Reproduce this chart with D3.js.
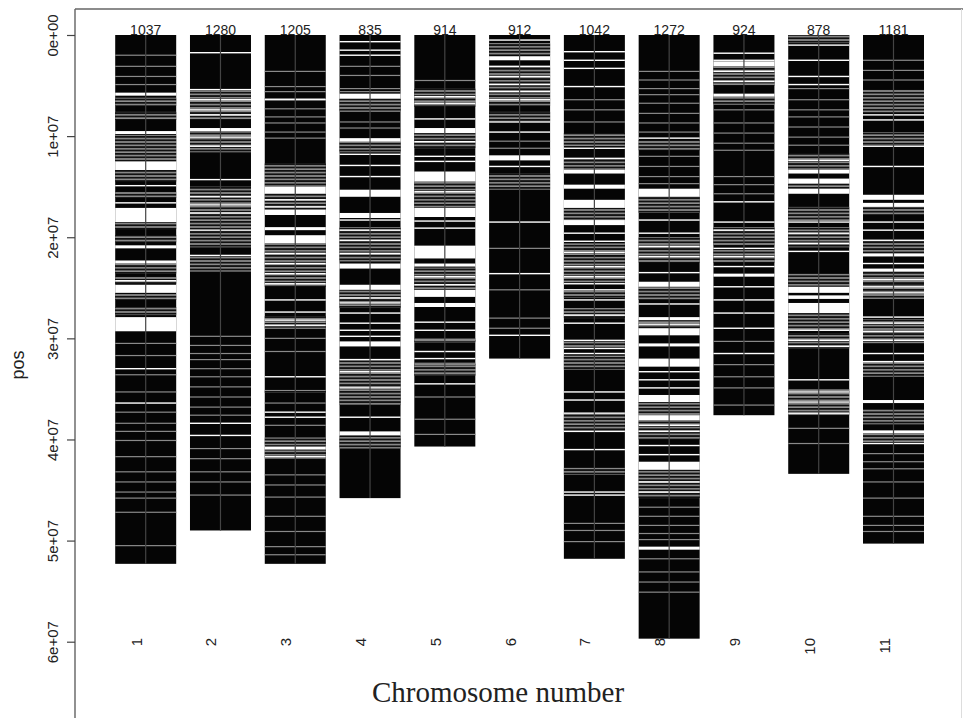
<!DOCTYPE html>
<html>
<head>
<meta charset="utf-8">
<script src="https://cdn.jsdelivr.net/npm/d3@7"></script>
<style>
  body { margin: 0; background: #fff; }
  svg text { font-family: "Liberation Sans", Arial, sans-serif; fill: #222; }
</style>
</head>
<body>
<svg id="chart" width="963" height="718"></svg>
<script>
// chromosomes and marker counts
const chromosomes = ['1','2','3','4','5','6','7','8','9','10','11'];
const markerCounts = [1037, 1280, 1205, 835, 914, 912, 1042, 1272, 924, 878, 1181];
// last marker position, Mb
const chromLengthMb = [52.3, 49.0, 52.3, 45.8, 40.7, 32.0, 51.8, 59.7, 37.6, 43.4, 50.3];

const yTickValues = [0, 1e7, 2e7, 3e7, 4e7, 5e7, 6e7];
const yTickLabels = ['0e+00','1e+07','2e+07','3e+07','4e+07','5e+07','6e+07'];

// stretches with no markers (Mb, from-to)
const gapBands = [
  [[5.7,6.0],[9.5,9.8],[12.5,13.35],[17.1,18.5],[20.8,21.1],[22.3,22.6],[24.7,25.5],[27.9,29.3]],
  [[9.2,9.5]],
  [[15.0,15.7],[17.3,17.8],[19.0,19.3],[19.8,20.6],[40.7,41.0]],
  [[5.8,6.3],[10.2,10.55],[15.3,16.0],[17.6,18.1],[22.6,23.1],[24.7,25.2],[30.3,30.8],[39.2,39.6]],
  [[9.2,9.7],[13.5,14.5],[17.1,18.0],[20.9,22.1],[22.6,22.9],[25.2,25.9],[26.5,26.9]],
  [[2.1,2.5],[11.9,12.4]],
  [[13.35,13.7],[14.8,15.2],[16.3,17.1],[18.3,18.8]],
  [[15.2,16.0],[24.4,24.9],[27.9,28.2],[29.0,29.7],[30.5,30.8],[32.0,32.8],[35.6,36.3],[37.6,38.1],[42.2,43.0],[50.6,50.9]],
  [[2.6,3.1],[5.8,6.1],[23.6,23.9]],
  [[13.35,13.7],[14.2,14.7],[15.2,15.7],[24.9,25.5],[25.75,26.1],[26.5,27.5]],
  [[15.8,16.3],[16.6,17.0],[21.6,21.9],[23.1,23.4],[36.1,36.4],[39.1,39.4]]
];

// stretches where markers are sparse (striped grey)
const sparseBands = [
  [[6.2,7.0],[7.6,8.4],[9.9,12.5],[13.35,14.5],[15.5,16.1],[18.5,19.2],[19.8,20.5],[22.6,23.6],[23.9,24.6],[25.6,26.2],[26.9,27.7]],
  [[5.5,8.4],[9.5,11.6],[15.0,19.2],[19.4,21.0],[21.8,23.4]],
  [[12.7,15.0],[15.7,17.3],[20.6,24.9],[27.8,29.0],[35.1,35.4],[39.8,40.6],[41.0,41.9]],
  [[6.3,7.6],[10.55,11.6],[19.0,22.4],[25.2,27.0],[32.1,36.6],[39.7,40.9]],
  [[5.3,7.1],[9.7,11.2],[14.5,17.1],[23.0,25.2],[30.0,30.4],[32.4,33.7]],
  [[0.8,2.0],[3.2,7.0],[7.6,8.5],[13.7,15.3]],
  [[9.7,11.0],[12.3,13.35],[17.1,18.3],[20.6,21.8],[21.9,24.6],[25.3,26.0],[27.0,28.0],[30.2,31.0],[31.7,33.1],[37.5,39.1],[42.8,43.5]],
  [[10.4,11.4],[16.0,17.6],[20.0,22.5],[24.9,26.2],[28.2,29.0],[36.3,37.6],[38.1,40.0],[43.0,45.8]],
  [[3.1,5.0],[6.1,6.9],[19.0,20.8],[21.2,22.5]],
  [[0,0.8],[11.7,13.35],[14.7,15.2],[17.0,18.4],[19.0,21.0],[23.6,24.9],[27.5,29.2],[29.5,31.0],[35.0,37.6]],
  [[5.4,7.7],[9.6,10.9],[17.0,17.8],[20.4,21.6],[23.4,24.6],[24.7,26.1],[28.1,30.5],[32.3,33.8],[37.0,38.5],[39.4,40.3]]
];

// single white lines (Mb)
const thinGaps = [
  [14.9,16.6,24.3,33.0,36.4],
  [1.75,5.4,6.4,7.4,7.9,10.1,11.0,14.3,16.0,16.8,17.6,19.3,21.8,38.4,39.6],
  [6.4,16.3,17.0,21.6,22.6,23.6,24.6,26.2,27.4,28.2,28.7,33.8,37.3,37.8,41.7],
  [0.66,1.5,2.0,11.8,12.9,14.0,18.3,19.3,20.3,21.6,26.0,26.5,27.5,28.5,29.2,29.8,32.1,33.3,34.9,37.8],
  [6.1,6.75,8.3,10.55,12.0,12.5,15.5,18.4,19.1,20.9,23.9,24.7,28.4,29.2,31.3,32.0,34.5],
  [0.5,3.1,4.1,4.9,5.6,6.4,8.6,9.6,13.0,18.5,23.6,29.7],
  [1.65,2.5,3.3,5.1,11.2,12.2,19.6,20.4,21.5,22.9,23.9,24.6,25.2,26.2,27.7,28.5,30.2,31.0,31.5,35.3,36.1,37.4,39.2,41.0,45.2,45.5],
  [10.2,18.3,19.6,20.9,21.9,23.5,26.6,28.6,33.3,34.1,34.9,38.6,39.2,40.6,41.5,44.2,45.2],
  [1.8,2.5,3.6,4.6,16.5,18.5,19.3,21.1,21.9,22.9,24.9,26.2,27.5,29.0,31.5],
  [1.0,2.5,4.1,4.9,12.4,18.5,19.6,20.6,21.4,29.2,30.2,30.8,34.1,35.3,36.3,37.4],
  [7.9,8.4,11.0,13.0,18.5,19.3,20.3,22.6,24.2,24.9,25.5,27.9,28.5,29.3,30.2,31.5,32.3,40.4]
];

// single grey lines (Mb)
const thinSparse = [
  [2.0,3.1,4.1,4.9,30.5,31.7,33.6,35.3,37.3,38.4,39.2,40.1,41.7,43.2,44.2,45.2,45.8,47.2,50.5],
  [29.8,30.7,31.5,32.1,33.0,33.8,34.8,35.8,36.8,37.6,40.9,41.9,43.2,44.2,45.5],
  [3.6,5.1,5.6,6.3,7.3,8.1,8.7,9.6,10.2,29.0,30.0,31.3,36.4,38.6,43.5,44.5,45.7,47.6,49.1,50.6,51.4],
  [3.1,4.0,5.3,5.6,8.6,9.2],
  [4.5,30.2,32.6,33.5,35.8,38.0,39.5],
  [10.5,11.2,21.1,25.2,28.0,29.0],
  [6.4,7.4,8.6,48.3,49.0,50.1],
  [3.6,4.45,5.3,5.9,6.75,7.75,8.7,9.6,12.0,13.0,14.0,14.7,46.7,47.6,48.5,49.3,49.9,51.8,53.1,54.1,55.1],
  [7.4,8.7,9.7,10.7,11.4,14.0,14.8,15.7,30.3,32.6,33.8,34.9,36.6],
  [5.3,6.4,7.4,8.1,9.1,10.1,10.9,38.9,40.4],
  [2.5,3.5,4.45,41.4,42.2,42.9,44.2,45.8,47.6,48.5,49.1]
];

var MB = 1e6;
var colW = 61;
var svg = d3.select('#chart');

var y = d3.scaleLinear().domain([0, 6e7]).range([35, 641.7]);
var x = d3.scalePoint().domain(chromosomes).range([145.7, 893.5]);

// striped fill for sparse stretches
var pat = svg.append('defs').append('pattern')
  .attr('id', 'sparse')
  .attr('patternUnits', 'userSpaceOnUse')
  .attr('width', 8).attr('height', 3.4);
pat.append('rect').attr('width', 8).attr('height', 3.4).attr('fill', '#8e8e8e');
pat.append('rect').attr('width', 8).attr('height', 1.8).attr('fill', '#111');

// frame (left axis line, top and right edge)
svg.append('line').attr('x1', 75).attr('x2', 75).attr('y1', 9).attr('y2', 718)
  .attr('stroke', '#555').attr('stroke-width', 1.3);
svg.append('line').attr('x1', 75).attr('x2', 963).attr('y1', 9).attr('y2', 9)
  .attr('stroke', '#666').attr('stroke-width', 1.3);
svg.append('line').attr('x1', 961.5).attr('x2', 961.5).attr('y1', 9).attr('y2', 718)
  .attr('stroke', '#ddd').attr('stroke-width', 1);

// y axis
var yAxis = svg.append('g')
  .attr('transform', 'translate(75,0)')
  .call(d3.axisLeft(y).tickValues(yTickValues).tickSize(8).tickFormat(function(d, i) { return yTickLabels[i]; }));
yAxis.select('.domain').remove();
yAxis.selectAll('.tick line').attr('stroke', '#444').attr('stroke-width', 1.2);
yAxis.selectAll('.tick text')
  .attr('transform', 'rotate(-90)')
  .attr('x', 0).attr('y', -17).attr('dy', null)
  .attr('text-anchor', 'middle')
  .style('font-size', '15px')
  .style('font-family', '"Liberation Sans", Arial, sans-serif')
  .attr('fill', '#222');

svg.append('text')
  .attr('transform', 'translate(24,365) rotate(-90)')
  .attr('text-anchor', 'middle')
  .style('font-size', '18px')
  .text('pos');

// chromosome columns
var cols = svg.selectAll('g.chrom').data(chromosomes).join('g')
  .attr('class', 'chrom')
  .attr('transform', function(d) { return 'translate(' + (x(d) - colW / 2) + ',0)'; });

cols.append('rect')
  .attr('y', y(0))
  .attr('width', colW)
  .attr('height', function(d, i) { return y(chromLengthMb[i] * MB) - y(0); })
  .attr('fill', '#050505');

cols.each(function(d, i) {
  var g = d3.select(this);
  g.selectAll('rect.sparse').data(sparseBands[i]).join('rect')
    .attr('class', 'sparse')
    .attr('y', function(b) { return y(b[0] * MB); })
    .attr('height', function(b) { return y(b[1] * MB) - y(b[0] * MB); })
    .attr('width', colW)
    .attr('fill', 'url(#sparse)');
  g.selectAll('rect.thin-sparse').data(thinSparse[i]).join('rect')
    .attr('class', 'thin-sparse')
    .attr('y', function(p) { return y(p * MB) - 0.6; })
    .attr('height', 1.2)
    .attr('width', colW)
    .attr('fill', '#8a8a8a');
  g.selectAll('rect.gap').data(gapBands[i]).join('rect')
    .attr('class', 'gap')
    .attr('y', function(b) { return y(b[0] * MB); })
    .attr('height', function(b) { return y(b[1] * MB) - y(b[0] * MB); })
    .attr('width', colW)
    .attr('fill', '#fff');
  g.selectAll('rect.thin-gap').data(thinGaps[i]).join('rect')
    .attr('class', 'thin-gap')
    .attr('y', function(p) { return y(p * MB) - 0.7; })
    .attr('height', 1.4)
    .attr('width', colW)
    .attr('fill', '#fff');
});

// chromosome axis line down the middle of each column
cols.append('line')
  .attr('x1', colW / 2).attr('x2', colW / 2)
  .attr('y1', y(0))
  .attr('y2', function(d, i) { return y(chromLengthMb[i] * MB); })
  .attr('stroke', '#444').attr('stroke-width', 1.2);

// marker counts above columns
svg.selectAll('text.count').data(chromosomes).join('text')
  .attr('class', 'count')
  .attr('x', function(d) { return x(d); })
  .attr('y', 34.5)
  .attr('text-anchor', 'middle')
  .style('font-size', '14px')
  .text(function(d, i) { return markerCounts[i]; });

// chromosome labels
svg.selectAll('text.chr-label').data(chromosomes).join('text')
  .attr('class', 'chr-label')
  .attr('transform', function(d) { return 'translate(' + (x(d) - 4) + ',638) rotate(-90)'; })
  .attr('text-anchor', 'end')
  .style('font-size', '15px')
  .text(function(d) { return d; });

svg.append('text')
  .attr('x', 498).attr('y', 702)
  .attr('text-anchor', 'middle')
  .style('font-family', '"Liberation Serif", "Times New Roman", serif')
  .style('font-size', '29px')
  .text('Chromosome number');
</script>
</body>
</html>
